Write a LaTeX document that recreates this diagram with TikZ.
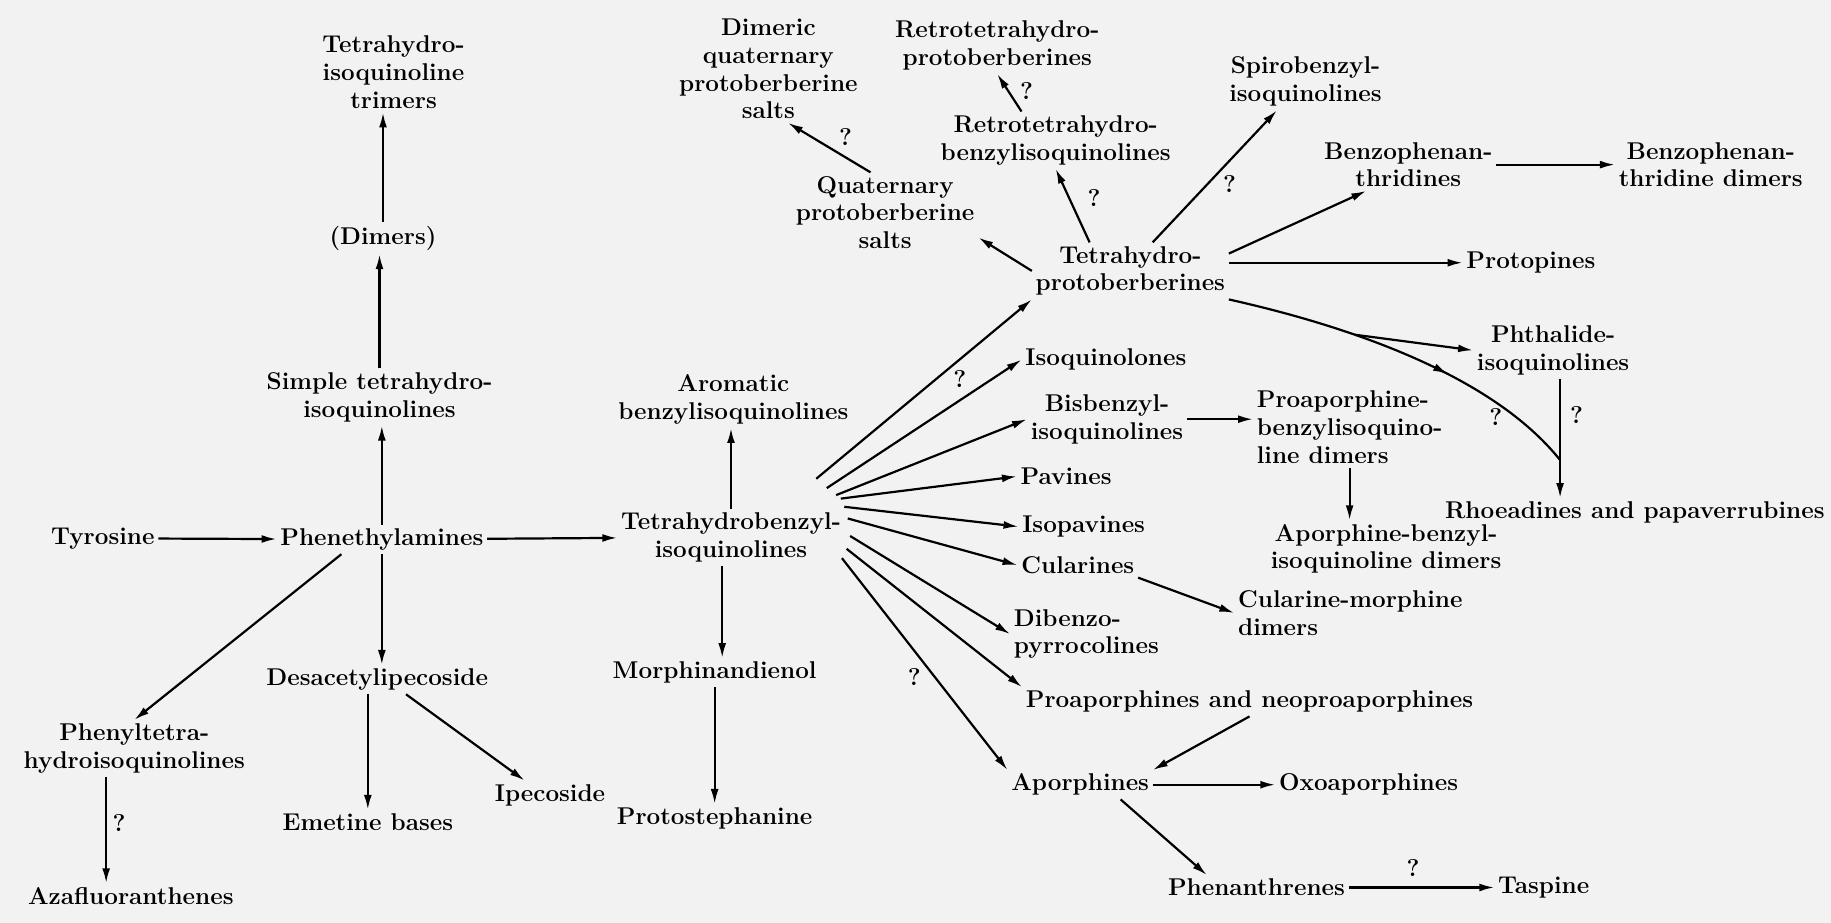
\documentclass[tikz,border=0pt]{standalone}
\usepackage{fontspec}
\usetikzlibrary{arrows.meta,decorations.markings}
\begin{document}
\begin{tikzpicture}[x=0.02335cm,y=-0.02335cm,>={Latex[length=8.5pt,width=4.5pt]},
	every node/.style={font=\fontsize{13.8}{15.8}\selectfont\bfseries,inner sep=2pt,align=center},
	ar/.style={->,line width=1.25pt}]
	\fill[black!5] (0,0) rectangle (1568,790);
	\useasboundingbox (0,0) rectangle (1568,790);
	% left part
	\node (tyr) at (88,461) {Tyrosine};
	\node (phe) at (327,462) {Phenethylamines};
	\node (simple) at (325,340) {Simple tetrahydro-\\isoquinolines};
	\node (dimers) at (328,204) {(Dimers)};
	\node (trimers) at (337,62) {Tetrahydro-\\isoquinoline\\trimers};
	\node (desac) at (323,582) {Desacetylipecoside};
	\node (phenyl) at (115,641) {Phenyltetra-\\hydroisoquinolines};
	\node (azaf) at (112,767) {Azafluoranthenes};
	\node (emet) at (315,704) {Emetine bases};
	\node (ipec) at (471,681) {Ipecoside};
	% middle
	\node (thb) at (626,460) {Tetrahydrobenzyl-\\isoquinolines};
	\node (arom) at (628,342) {Aromatic\\benzylisoquinolines};
	\node (morph) at (612,576) {Morphinandienol};
	\node (proto) at (612,701) {Protostephanine};
	% protoberberines
	\node (thpb) at (968,232) {Tetrahydro-\\protoberberines};
	\node (quat) at (758,182) {Quaternary\\protoberberine\\salts};
	\node (dimq) at (658,59) {Dimeric\\quaternary\\protoberberine\\salts};
	\node (rbiq) at (904,120) {Retrotetrahydro-\\benzylisoquinolines};
	\node (rpb) at (854,39) {Retrotetrahydro-\\protoberberines};
	\node (spiro) at (1118,70) {Spirobenzyl-\\isoquinolines};
	\node (bzp) at (1206,141) {Benzophenan-\\thridines};
	\node (bzpd) at (1465,141) {Benzophenan-\\thridine dimers};
	\node (protop) at (1311,225) {Protopines};
	\node (phth) at (1330,300) {Phthalide-\\isoquinolines};
	\node (rhoe) at (1400,439) {Rhoeadines and papaverrubines};
	% fan
	\node (isoq) at (947,308) {Isoquinolones};
	\node (bisb) at (948,359) {Bisbenzyl-\\isoquinolines};
	\node (pav) at (913,408) {Pavines};
	\node (isopav) at (928,451) {Isopavines};
	\node (cul) at (923,484) {Cularines};
	\node[anchor=west,align=left] (dib) at (865,543) {Dibenzo-\\pyrrocolines};
	\node (proap) at (1070,601) {Proaporphines and neoproaporphines};
	\node (aporph) at (925,672) {Aporphines};
	\node (oxo) at (1172,672) {Oxoaporphines};
	\node (phen) at (1076,760) {Phenanthrenes};
	\node (tasp) at (1322,760) {Taspine};
	\node[anchor=west,align=left] (pabd) at (1073,366) {Proaporphine-\\benzylisoquino-\\line dimers};
	\node (abd) at (1187,470) {Aporphine-benzyl-\\isoquinoline dimers};
	\node[anchor=west,align=left] (cmd) at (1057,525) {Cularine-morphine\\dimers};
	\coordinate (jn) at (1336,394);
	% question marks
	\foreach \qx/\qy [count=\i] in {102/705,724/117,879/78,937/170,1053/158,822/325,783/580,1281/357,1350/355,1210/743}
		\node (q\i) at (\qx,\qy) {?};
	% arrows, left
	\draw[ar] (tyr) -- (phe);
	\draw[ar] (phe) -- (thb);
	\draw[ar] (phe.north) -- (phe.north |- simple.south);
	\draw[ar] (simple.north) -- (simple.north |- dimers.south);
	\draw[ar] (dimers.north) -- (dimers.north |- trimers.south);
	\draw[ar] (phe.south) -- (phe.south |- desac.north);
	\draw[ar] (phe.200) -- (phenyl.north);
	\draw[ar] ([xshift=-16pt]phenyl.south) -- ([xshift=-16pt]phenyl.south |- azaf.north);
	\draw[ar] (emet.north |- desac.south) -- (emet.north);
	\draw[ar] (desac.333) -- (ipec.150);
	% arrows, middle
	\draw[ar] (thb.north) -- (thb.north |- arom.south);
	\draw[ar] ([xshift=-5pt]thb.south) -- ([xshift=-5pt]thb.south |- morph.north);
	\draw[ar] (morph) -- (proto);
	\foreach \dx/\dy/\tgt in {73/-50/thpb.south west,82/-42/isoq.west,90/-36/bisb.west,94/-33/pav.west,97/-26/isopav.west,100/-16/cul.west,102/-1/dib.west,99/10/proap.north west,95/18/aporph.north west}
		\draw[ar] ([shift={(\dx,\dy)}]thb.center) -- (\tgt);
	% arrows, right
	\draw[ar] (thpb.west) -- (quat.345);
	\draw[ar] (quat.110) -- (dimq.290);
	\draw[ar] (thpb.145) -- (rbiq.south);
	\draw[ar] (rbiq.140) -- (rpb.south);
	\draw[ar] (thpb.52) -- (spiro.225);
	\draw[ar] (thpb.10) -- (bzp.212);
	\draw[ar] (bzp) -- (bzpd);
	\draw[ar] (thpb.east |- protop) -- (protop);
	\draw[line width=1.25pt,postaction={decorate},decoration={markings,mark=at position 0.62 with {\arrow{>}}}]
		(thpb.south east) .. controls (1180,285) and (1285,330) .. (jn) coordinate[pos=0.3] (br);
	\draw[ar] (br) -- (phth.west);
	\draw[ar] (jn |- phth.south) -- (jn |- rhoe.north);
	\draw[ar] (bisb) -- (bisb -| pabd.west);
	\draw[ar] (pabd.south) -- (pabd.south |- abd.north);
	\draw[ar] (cul.south east) -- (cmd.west);
	\draw[ar] (proap.south) -- (aporph.north east);
	\draw[ar] (aporph) -- (oxo);
	\draw[ar] (aporph.340) -- (phen.166);
	\draw[ar] (phen) -- (tasp);
\end{tikzpicture}
\end{document}
